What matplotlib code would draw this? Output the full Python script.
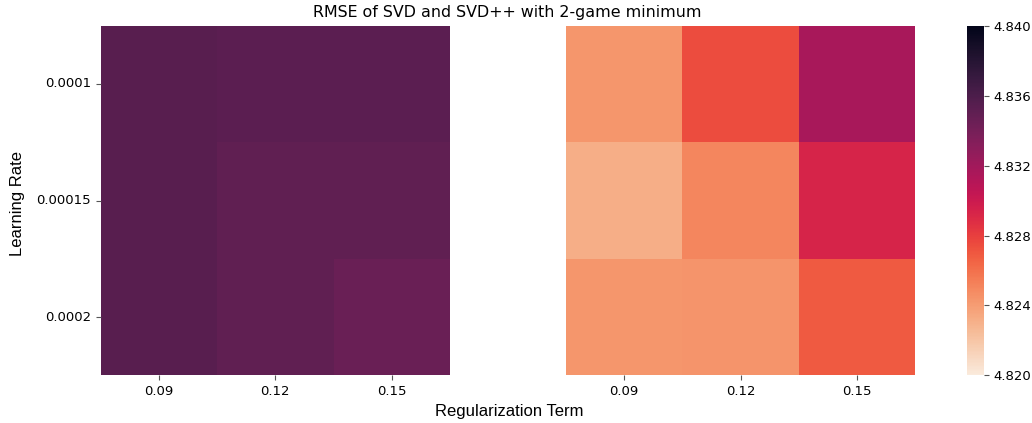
import matplotlib
matplotlib.use('Agg')
import matplotlib.pyplot as plt
import numpy as np
import seaborn as sns


learning_rates = ['0.0001', '0.00015', '0.0002']
reg_terms = ['0.09', '0.12', '0.15']

rmse_svd = [
    [4.8354, 4.8353, 4.8353],
    [4.8354, 4.8350, 4.8350],
    [4.8354, 4.8350, 4.8346],
]
rmse_svdpp = [
    [4.8243, 4.8275, 4.8317],
    [4.8232, 4.8250, 4.8293],
    [4.8243, 4.8244, 4.8269],
]

fig = plt.figure(figsize=(10.32, 4.23), dpi=100)
ax1 = fig.add_axes([0.0974, 0.1123, 0.3387, 0.8274])
ax2 = fig.add_axes([0.5484, 0.1123, 0.3387, 0.8274])
cax = fig.add_axes([0.937, 0.1123, 0.0165, 0.8274])

kw = dict(cmap='rocket_r', vmin=4.820, vmax=4.840)
sns.heatmap(np.array(rmse_svd), ax=ax1, cbar=False,
            xticklabels=reg_terms, yticklabels=learning_rates, **kw)
sns.heatmap(np.array(rmse_svdpp), ax=ax2, cbar_ax=cax,
            xticklabels=reg_terms, yticklabels=False, **kw)

for ax in (ax1, ax2):
    ax.tick_params(labelsize=9.5, length=3.5, color='#555555')
    ax.set_xlabel('')
    ax.set_ylabel('')
ax1.tick_params(axis='y', labelrotation=0)
ax2.tick_params(axis='y', left=False)

cax.set_yticks([4.820, 4.824, 4.828, 4.832, 4.836, 4.840])
cax.set_yticklabels(['4.820', '4.824', '4.828', '4.832', '4.836', '4.840'])
cax.tick_params(labelsize=9.5, length=3.5, color='#555555')

fig.text(0.492, 0.97, 'RMSE of SVD and SVD++ with 2-game minimum',
         ha='center', va='center', fontsize=11.4)
fig.text(0.493, 0.027, 'Regularization Term', ha='center', va='center',
         fontsize=12, family='Liberation Sans')
fig.text(0.017, 0.52, 'Learning Rate', ha='center', va='center',
         rotation=90, fontsize=12, family='Liberation Sans')

plt.savefig('out.png', dpi=100)
plt.close()
